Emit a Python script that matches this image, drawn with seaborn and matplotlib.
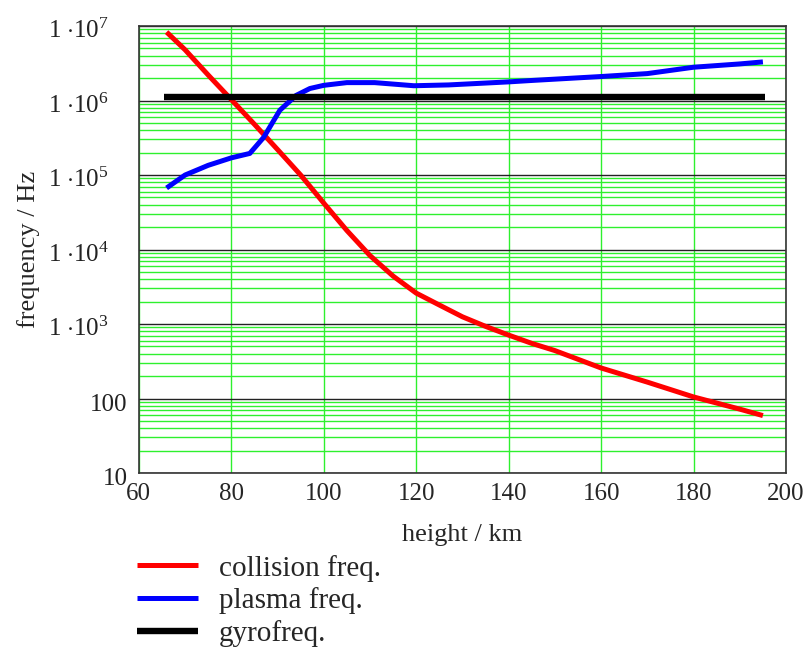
import numpy as np
import pandas as pd
import matplotlib
matplotlib.use("Agg")
import matplotlib.pyplot as plt
import matplotlib.transforms as mtransforms
import seaborn as sns
from matplotlib.ticker import FixedLocator, LogLocator, NullFormatter

# ---- data ----
coll_h = [66, 70, 75, 80, 85, 90, 95, 100, 105, 110, 115, 120, 125, 130, 135,
          140, 145, 150, 160, 170, 180, 190, 195]
coll_f = [8.3e6, 4.8e6, 2.2e6, 1.03e6, 4.8e5, 2.2e5, 1.0e5, 4.2e4, 1.8e4, 8.3e3,
          4.4e3, 2.6e3, 1.8e3, 1.25e3, 930, 710, 550, 440, 257, 166, 105, 72, 59]

plasma_h = [66, 70, 75, 80, 84, 87, 90.5, 94, 97, 100, 105, 111, 119.5, 127, 140,
            145, 160, 170, 180, 190, 195]
plasma_f = [6.7e4, 1.0e5, 1.35e5, 1.7e5, 1.95e5, 3.2e5, 7.4e5, 1.17e6, 1.45e6,
            1.6e6, 1.74e6, 1.74e6, 1.58e6, 1.62e6, 1.78e6, 1.86e6, 2.1e6, 2.3e6,
            2.8e6, 3.1e6, 3.3e6]

gyro_h = [65.5, 195.5]
gyro_f = [1.1e6, 1.1e6]

x_ticks = [60, 80, 100, 120, 140, 160, 180, 200]
y_ticks = [10, 100, 1e3, 1e4, 1e5, 1e6, 1e7]
y_labels = ["10", "100", r"$1\ {\cdot}10^{3}$", r"$1\ {\cdot}10^{4}$",
            r"$1\ {\cdot}10^{5}$", r"$1\ {\cdot}10^{6}$", r"$1\ {\cdot}10^{7}$"]
labels = ["collision freq.", "plasma freq.", "gyrofreq."]

df = pd.concat([
    pd.DataFrame({"height": coll_h, "freq": coll_f, "series": labels[0]}),
    pd.DataFrame({"height": plasma_h, "freq": plasma_f, "series": labels[1]}),
    pd.DataFrame({"height": gyro_h, "freq": gyro_f, "series": labels[2]}),
])

sns.set_style("white")
plt.rcParams["font.family"] = ["Liberation Serif", "DejaVu Serif"]
plt.rcParams["mathtext.fontset"] = "custom"
plt.rcParams["mathtext.rm"] = "Liberation Serif"
plt.rcParams["mathtext.it"] = "Liberation Serif:italic"
plt.rcParams["mathtext.bf"] = "Liberation Serif:bold"

fig = plt.figure(figsize=(8.12, 6.51), dpi=100)
ax = fig.add_axes([0.171, 0.2734, 0.797, 0.6866])

colors = {labels[0]: "#ff0000", labels[1]: "#0000ff", labels[2]: "#000000"}
widths = {labels[0]: 3.6, labels[1]: 3.6, labels[2]: 4.6}
for name in labels:
    sub = df[df["series"] == name]
    sns.lineplot(data=sub, x="height", y="freq", ax=ax, color=colors[name],
                 linewidth=widths[name], label=name, legend=False,
                 solid_capstyle="butt", solid_joinstyle="round", zorder=5, sort=False)

ax.set_yscale("log")
ax.set_xlim(60, 200)
ax.set_ylim(10, 1e7)

ax.yaxis.set_major_locator(FixedLocator(y_ticks))
ax.yaxis.set_minor_locator(LogLocator(base=10, subs=np.arange(2, 10)))
ax.yaxis.set_minor_formatter(NullFormatter())
ax.set_yticklabels([])
ax.set_xticks(x_ticks)
ax.set_xticklabels([str(v) for v in x_ticks])

# y tick labels: exponent labels sit further from the axis than plain ones
ytf = ax.get_yaxis_transform()
for val, lab in zip(y_ticks, y_labels):
    gap = 11 if "cdot" not in lab else 30
    off = mtransforms.ScaledTranslation(-gap / 100, -12 / 100, fig.dpi_scale_trans)
    ax.text(0, val, lab, transform=ytf + off, ha="right", va="baseline",
            fontsize=18, color="#222222")

ax.grid(False)
ax.yaxis.grid(True, which="minor", color="#2ef02e", linewidth=1.0, zorder=0)
ax.yaxis.grid(True, which="major", color="#222222", linewidth=1.0, zorder=1)
ax.xaxis.grid(True, which="major", color="#2ef02e", linewidth=1.0, zorder=0)
ax.set_axisbelow(True)

for s in ax.spines.values():
    s.set_color("#333333")
    s.set_linewidth(1.2)

ax.tick_params(axis="both", which="both", length=0, labelsize=18)
ax.tick_params(axis="x", pad=7)
ax.set_xlabel("height / km", fontsize=19, labelpad=14)
ax.set_ylabel("frequency / Hz", fontsize=19)
ax.yaxis.set_label_coords(-0.152, 0.5)

handles, labs = ax.get_legend_handles_labels()
fig.legend(handles, labs, loc="upper left", bbox_to_anchor=(0.154, 0.166),
           frameon=False, fontsize=21, handlelength=2.1, handletextpad=0.72,
           labelspacing=0.2, borderaxespad=0)

fig.savefig("out.png", dpi=100)
